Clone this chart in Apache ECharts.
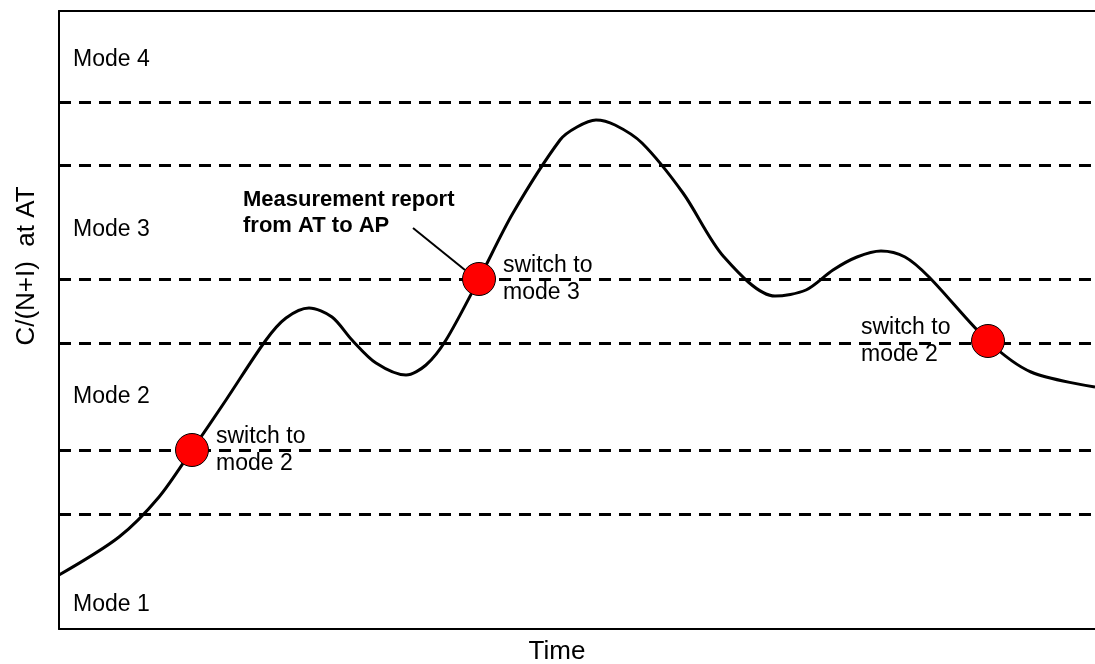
<!DOCTYPE html>
<html>
<head>
<meta charset="utf-8">
<script src="https://cdn.jsdelivr.net/npm/echarts@6/dist/echarts.min.js"></script>
<style>
  html, body { margin: 0; padding: 0; background: #fff; }
  #chart { width: 1095px; height: 664px; }
</style>
</head>
<body>
<div id="chart"></div>
<script>
  // curve (time, C/(N+I))
  const timeVals = [0, 60, 100, 133, 167, 207, 227, 250, 273, 293, 317, 347, 367, 387, 420, 454, 501, 518, 537, 556, 583, 624, 665, 716, 747, 774, 798, 822, 846, 870, 929, 972, 1036];
  const cnirVals = [54, 92, 132, 179, 229, 289, 311, 321, 312, 289, 266, 254, 264, 289, 350, 416, 489, 502, 509, 504, 486, 436, 372, 333, 339, 359, 372, 378, 372, 352, 288, 257, 242];

  // mode thresholds (hysteresis pairs)
  const thresholds = [527, 464, 350, 286, 179, 115];

  // switching events
  const switchTime = [133, 420, 929];
  const switchLevel = [179, 350, 288];
  const switchText = ['switch to\nmode 2', 'switch to\nmode 3', 'switch to\nmode 2'];

  const modeNames = ['Mode 1', 'Mode 2', 'Mode 3', 'Mode 4'];
  const modeLevels = [24, 232, 399, 569];

  const reportText = 'Measurement report\nfrom AT to AP';
  const leaderTime = [354, 406];
  const leaderLevel = [401, 359];

  const font = 'Liberation Sans, Arial, sans-serif';

  const myChart = echarts.init(document.getElementById('chart'));

  let curve = timeVals.map((t, i) => [t, cnirVals[i]]);
  let switches = switchTime.map((t, i) => {
    let item = { value: [t, switchLevel[i]], name: switchText[i] };
    if (i == 2) {
      item.label = { position: 'left', align: 'left', distance: 0, offset: [-110, 0] };
    }
    return item;
  });

  let textLabel = {
    show: true, position: 'right', distance: 0,
    formatter: p => p.name,
    color: '#000', fontFamily: font, fontSize: 23
  };

  let option = {
    animation: false,
    grid: { left: 59, right: 0, top: 11, bottom: 35 },
    xAxis: [
      {
        type: 'value', min: 0, max: 1036,
        axisLine: { show: true, lineStyle: { color: '#000', width: 2 } },
        axisTick: { show: false }, axisLabel: { show: false }, splitLine: { show: false }
      },
      {
        type: 'value', min: 0, max: 1036, position: 'top',
        axisLine: { show: true, lineStyle: { color: '#000', width: 2 } },
        axisTick: { show: false }, axisLabel: { show: false }, splitLine: { show: false }
      }
    ],
    yAxis: {
      type: 'value', min: 0, max: 618,
      axisLine: { show: true, onZero: false, lineStyle: { color: '#000', width: 2 } },
      axisTick: { show: false }, axisLabel: { show: false }, splitLine: { show: false }
    },
    graphic: [
      {
        type: 'text', x: 557, y: 652,
        style: { text: 'Time', font: '26px ' + font, fill: '#000', align: 'center', verticalAlign: 'middle' }
      },
      {
        type: 'text', x: 27, y: 266, rotation: Math.PI / 2,
        style: { text: 'C/(N+I)  at AT', font: '26px ' + font, fill: '#000', align: 'center', verticalAlign: 'middle' }
      }
    ],
    series: [
      {
        type: 'line',
        data: curve,
        smooth: 0.3,
        showSymbol: false,
        lineStyle: { color: '#000', width: 3 },
        z: 3,
        markLine: {
          silent: true,
          symbol: ['none', 'none'],
          label: { show: false },
          lineStyle: { color: '#000', width: 3, type: [12, 8] },
          data: thresholds.map(v => ({ yAxis: v }))
        }
      },
      {
        type: 'line',
        data: leaderTime.map((t, i) => [t, leaderLevel[i]]),
        showSymbol: false,
        lineStyle: { color: '#000', width: 2 },
        z: 3
      },
      {
        type: 'scatter',
        data: switches,
        symbolSize: 33,
        itemStyle: { color: '#ff0000', borderColor: '#000', borderWidth: 1, opacity: 1 },
        label: Object.assign({}, textLabel, { distance: 7, lineHeight: 27, align: 'left' }),
        z: 5
      },
      {
        type: 'scatter',
        data: modeNames.map((m, i) => ({ value: [14, modeLevels[i]], name: m })),
        symbolSize: 0,
        itemStyle: { opacity: 1 },
        label: textLabel
      },
      {
        type: 'scatter',
        data: [{ value: [184, 416], name: reportText }],
        symbolSize: 0,
        itemStyle: { opacity: 1 },
        label: Object.assign({}, textLabel, { fontSize: 22, fontWeight: 'bold', lineHeight: 26 })
      }
    ]
  };
  option && myChart.setOption(option);
</script>
</body>
</html>
